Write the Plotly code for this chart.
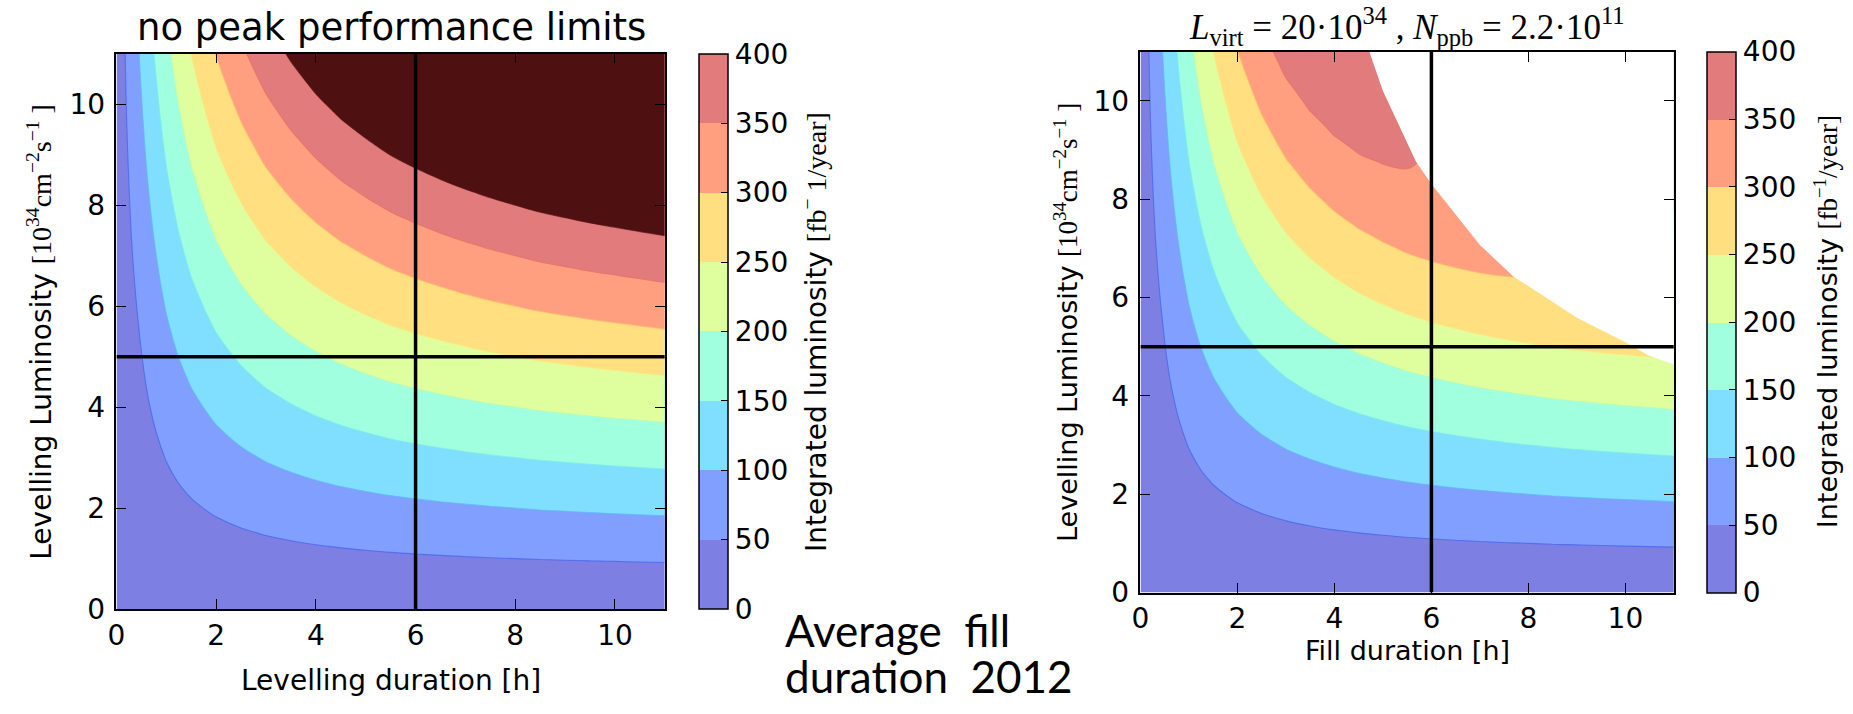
import numpy as np
import plotly.graph_objects as go

W, H = 1853, 714

# ---------------------------------------------------------------- data
# duration axis [h] and integrated luminosity per unit levelling luminosity
duration_h = [0, 0.1, 0.2, 0.3, 0.45, 0.6, 0.75, 1.0, 1.25, 1.5, 2.0, 2.5, 3.0,
              3.5, 4.0, 4.5, 5.0, 5.5, 6.0, 6.5, 7.0, 7.5, 8.0, 8.5, 9.0, 9.5,
              10.0, 10.5, 11.0]
yield_per_lumi = [0, 2.9, 5.1, 6.8, 9.0, 11.4, 13.6, 17.1, 20.1, 22.8, 27.4,
                  31.1, 34.3, 36.9, 39.2, 41.2, 42.9, 44.5, 45.8, 47.0, 48.1,
                  49.1, 50.0, 50.9, 51.6, 52.3, 52.9, 53.5, 54.1]
lumi_step = 0.25
lumi_max = 11.0

# burn-off limited case: loss of yield at the intensity limit, by luminosity
burn_limit = 50.0
loss_lumi = [0.0, 4.6, 6.4, 8.8, 11.0]
loss_at_limit = [0.0, 0.02, 0.057, 0.112, 0.175]

# edge of the reachable region (fill duration [h], levelling luminosity)
edge_hours = [4.72, 5.0, 5.68, 6.0, 7.0, 7.69, 9.0, 10.0, 10.48, 11.0]
edge_lumi = [11.0, 10.2, 8.77, 8.31, 7.07, 6.43, 5.59, 5.09, 4.82, 4.64]

levels = [0, 50, 100, 150, 200, 250, 300, 350, 400]
ref_duration = 6
ref_lumi = 5

band_colors = ["rgb(126,127,226)", "rgb(128,159,255)", "rgb(128,223,255)",
               "rgb(159,255,223)", "rgb(223,255,159)", "rgb(255,223,128)",
               "rgb(255,159,128)", "rgb(226,124,124)"]
edge_colors = ["rgb(70,100,240)", "rgb(100,180,250)", "rgb(120,238,235)",
               "rgb(185,252,180)", "rgb(245,238,130)", "rgb(252,190,105)",
               "rgb(235,110,100)", "rgb(110,30,30)"]
over_color = "rgb(79,16,17)"

# ---------------------------------------------------------------- grids
t = np.array(duration_h)
g = np.array(yield_per_lumi)
L = np.arange(0, lumi_max + 1e-9, lumi_step)
TT, LL = np.meshgrid(t, L)
z_left = LL * g[None, :]
frac = (LL * TT / burn_limit) ** 4
z_right = z_left * (1 - np.interp(LL, loss_lumi, loss_at_limit) * frac)

n_band = len(band_colors)
fill_scale = [[k / (n_band - 1), c] for k, c in enumerate(band_colors)]
edge_scale = [[k / (len(edge_colors) - 1), c] for k, c in enumerate(edge_colors)]
bar_scale = []
for k, c in enumerate(band_colors):
    bar_scale += [[k / n_band, c], [(k + 1) / n_band, c]]

step = levels[1] - levels[0]

fig = go.Figure()


def add_panel(z, xa, ya, cbar_x, cbar_y, cbar_len, show_over):
    fig.add_trace(go.Contour(
        x=t, y=L, z=z, xaxis=xa, yaxis=ya,
        colorscale=fill_scale, showscale=False,
        contours=dict(coloring="fill", start=levels[1], end=levels[-2], size=step),
        line=dict(width=0, smoothing=1.0), hoverinfo="skip"))
    fig.add_trace(go.Contour(
        x=t, y=L, z=z, xaxis=xa, yaxis=ya,
        colorscale=edge_scale, showscale=False,
        contours=dict(coloring="lines", start=levels[1], end=levels[-1], size=step),
        line=dict(width=1.1, smoothing=1.0), opacity=0.75, hoverinfo="skip"))
    if show_over:
        # shade everything above the top level
        fig.add_trace(go.Contour(
            x=t, y=L, z=z, xaxis=xa, yaxis=ya, showscale=False,
            contours=dict(type="constraint", operation="<", value=levels[-1]),
            fillcolor=over_color, line=dict(width=0, smoothing=1.0),
            hoverinfo="skip"))
    fig.add_trace(go.Scatter(
        x=[None], y=[None], xaxis=xa, yaxis=ya, mode="markers", showlegend=False,
        marker=dict(color=[levels[0]], cmin=levels[0], cmax=levels[-1],
                    colorscale=bar_scale, showscale=True,
                    colorbar=dict(x=cbar_x, xanchor="left", y=cbar_y, yanchor="middle",
                                  len=cbar_len, lenmode="fraction", thickness=29,
                                  thicknessmode="pixels", xpad=0, ypad=0,
                                  outlinewidth=1.5, outlinecolor="black",
                                  tickvals=levels, ticks="inside", ticklen=7,
                                  tickcolor="black", tickwidth=1.2,
                                  tickfont=dict(family="DejaVu Sans", size=28, color="black")))))


def add_ref_lines(xa, ya):
    fig.add_trace(go.Scatter(x=[ref_duration, ref_duration], y=[0, lumi_max],
                             xaxis=xa, yaxis=ya, mode="lines", showlegend=False,
                             line=dict(color="black", width=3.5), hoverinfo="skip"))
    fig.add_trace(go.Scatter(x=[0, duration_h[-1]], y=[ref_lumi, ref_lumi],
                             xaxis=xa, yaxis=ya, mode="lines", showlegend=False,
                             line=dict(color="black", width=3.5), hoverinfo="skip"))


# left panel
add_panel(z_left, "x", "y", 693 / W, 1 - (55 + 624) / 2 / H, (624 - 55) / H, True)
add_ref_lines("x", "y")

# right panel
add_panel(z_right, "x2", "y2", 1706 / W, 1 - (53 + 607) / 2 / H, (607 - 53) / H, False)
fig.add_trace(go.Scatter(x=edge_hours + [duration_h[-1]], y=edge_lumi + [lumi_max],
                         xaxis="x2", yaxis="y2", mode="lines", fill="toself",
                         fillcolor="white", line=dict(width=0, color="white"),
                         showlegend=False, hoverinfo="skip"))
add_ref_lines("x2", "y2")

tick_font = dict(family="DejaVu Sans", size=28, color="black")
axis_common = dict(showgrid=False, zeroline=False,
                   showline=True, linecolor="black", linewidth=1.6, mirror="allticks",
                   ticks="inside", ticklen=10, tickwidth=1.3, tickcolor="black",
                   tickfont=tick_font, layer="above traces",
                   tickvals=[0, 2, 4, 6, 8, 10])

fig.update_layout(
    width=W, height=H, margin=dict(l=0, r=0, t=0, b=0),
    paper_bgcolor="white", plot_bgcolor="white", showlegend=False,
    xaxis=dict(domain=[108 / W, 659 / W], anchor="y", range=[0, duration_h[-1]],
               **axis_common),
    yaxis=dict(domain=[1 - 624 / H, 1 - 55 / H], anchor="x", range=[0, lumi_max],
               ticklabelstandoff=4, **axis_common),
    xaxis2=dict(domain=[1137 / W, 1673 / W], anchor="y2", range=[0, duration_h[-1]],
                **axis_common),
    yaxis2=dict(domain=[1 - 607 / H, 1 - 53 / H], anchor="x2", range=[0, lumi_max],
                ticklabelstandoff=4, **axis_common),
)

SERIF = "font-family:'Liberation Serif'"
lumi_unit = (f"<span style=\"{SERIF}\">[10<sup>34</sup>cm<sup>−2</sup>"
             f"s<sup>−1</sup> ]</span>")


def note(text, x, y, size, xanchor="center", yanchor="middle", angle=0,
         family="DejaVu Sans"):
    fig.add_annotation(text=text, x=x / W, y=1 - y / H, xref="paper", yref="paper",
                       xanchor=xanchor, yanchor=yanchor, textangle=angle,
                       showarrow=False, font=dict(family=family, size=size, color="black"))


# left panel texts
note("no peak performance limits", 384, 28, 37)
note("Levelling duration [h]", 384, 697, 28)
note("Levelling Luminosity " + lumi_unit, 31, 340, 28, angle=-90)
note(f"Integrated luminosity <span style=\"{SERIF}\">[fb<sup>−</sup> 1/year]</span>",
     810, 340, 28, angle=-90)

# right panel texts
note("<i>L</i><sub>virt</sub> = 20·10<sup>34</sup> , <i>N</i><sub>ppb</sub> = 2.2·10<sup>11</sup>",
     1405, 27, 35, family="Liberation Serif")
note("Fill duration [h]", 1405, 666, 27)
note("Levelling Luminosity " + lumi_unit, 1062, 330, 27, angle=-90)
note(f"Integrated luminosity <span style=\"{SERIF}\">[fb<sup>−1</sup>/year]</span>",
     1826, 330, 27, angle=-90)

# annotation between the panels
note("Average\u00a0 fill", 778, 645, 44, xanchor="left", family="Lato")
note("duration\u00a0 2012", 778, 692, 44, xanchor="left", family="Lato")

fig.write_html("out.html")
